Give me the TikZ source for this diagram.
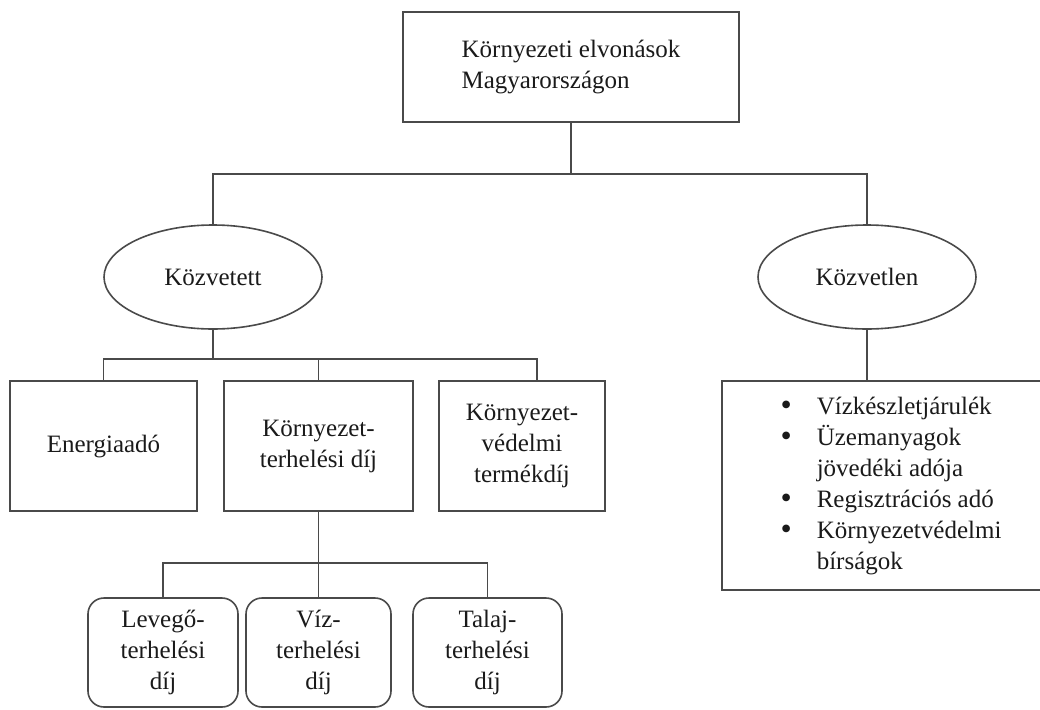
\documentclass[tikz,border=0pt]{standalone}
\usepackage{fontspec}
\setmainfont{Liberation Serif}
\usetikzlibrary{shapes.geometric}
\definecolor{ink}{HTML}{1A1A1A}
\definecolor{edge}{HTML}{4A4A4A}
\newcommand{\bigdot}{\smash{\raisebox{-1pt}{\fontsize{32}{31}\selectfont\textbullet}}}
\tikzset{
  line/.style={draw=edge, line width=1.6pt},
  box/.style={draw=edge, line width=1.6pt, text=ink, align=center, inner sep=0pt, font=\fontsize{25}{31}\selectfont},
  oval/.style={box, ellipse, minimum width=218pt, minimum height=104pt},
  rbox/.style={box, rounded corners=16pt, minimum height=109pt},
}

\begin{document}
\begin{tikzpicture}[x=1pt,y=-1pt]
  \useasboundingbox (0,0) rectangle (1040,709);
  \node[box, minimum width=336pt, minimum height=110pt, align=left] (top) at (571,67) {Környezeti elvonások\\Magyarországon};
  \node[oval] (kvt) at (213,277) {Közvetett};
  \node[oval] (kvl) at (867,277) {Közvetlen};
  \node[box, minimum width=187pt, minimum height=130pt] (ene) at (103.5,446) {Energiaadó};
  \node[box, minimum width=189pt, minimum height=130pt] (kth) at (318.5,446) {Környezet-\\terhelési díj};
  \node[box, minimum width=166pt, minimum height=130pt] (kvd) at (522,446) {Környezet-\\védelmi\\termékdíj};
  \node[box, minimum width=320pt, minimum height=209pt, align=left] (lst) at (882,485.5) {\begin{tabular}{@{\hspace{18pt}}c@{\hspace{25pt}}l@{}}
    \bigdot & Vízkészletjárulék\\
    \bigdot & Üzemanyagok\\
     & jövedéki adója\\
    \bigdot & Regisztrációs adó\\
    \bigdot & Környezetvédelmi\\
     & bírságok
  \end{tabular}};
  \node[rbox, minimum width=150pt] (lev) at (163,652.5) {Levegő-\\terhelési\\díj};
  \node[rbox, minimum width=145pt] (viz) at (318.5,652.5) {Víz-\\terhelési\\díj};
  \node[rbox, minimum width=149pt] (tal) at (487.5,652.5) {Talaj-\\terhelési\\díj};

  \coordinate (j1) at (571,174);
  \draw[line] (top.south) -- (j1);
  \draw[line] (j1) -| (kvt.north);
  \draw[line] (j1) -| (kvl.north);
  \coordinate (j2) at (213,359);
  \draw[line] (kvt.south) -- (j2);
  \draw[line] (j2) -| (ene.north);
  \draw[line] (j2) -| (kth.north);
  \draw[line] (j2) -| ([xshift=15pt]kvd.north);
  \draw[line] (kvl.south) -- (kvl.south |- lst.north);
  \path (kth.south) ++(0,51) coordinate (j3);
  \draw[line] (kth.south) -- (j3);
  \draw[line] (j3) -| (lev.north);
  \draw[line] (j3) -| (viz.north);
  \draw[line] (j3) -| (tal.north);
\end{tikzpicture}
\end{document}
